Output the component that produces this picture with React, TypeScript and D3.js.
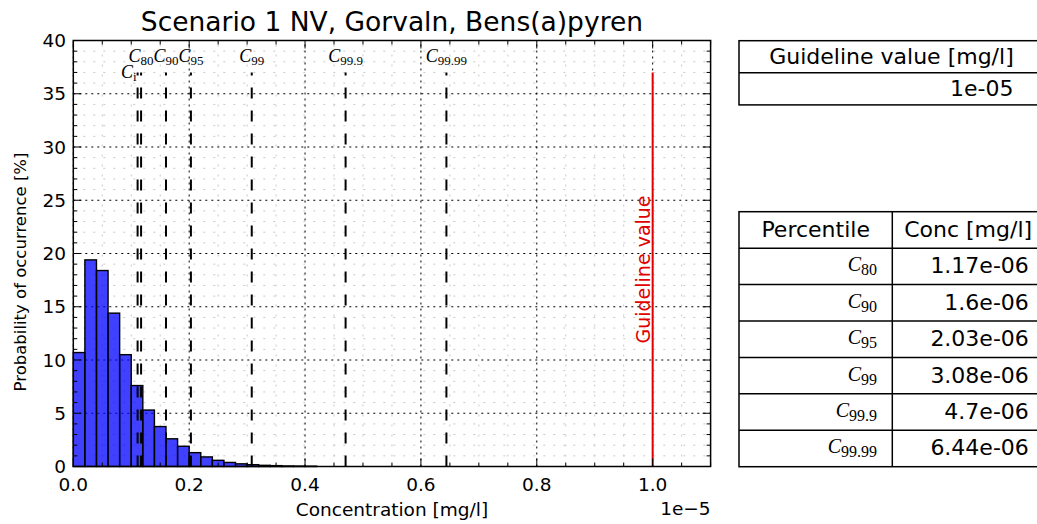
import React from "react";
import * as d3 from "d3";

// ---------- data ----------
// histogram bin edges (mg/l) and probability of occurrence (%)
const binEdges = [
  0, 2e-7, 4e-7, 6e-7, 8e-7, 1.0e-6, 1.2e-6, 1.4e-6, 1.6e-6, 1.8e-6, 2.0e-6,
  2.2e-6, 2.4e-6, 2.6e-6, 2.8e-6, 3.0e-6, 3.2e-6, 3.4e-6, 3.6e-6, 3.8e-6, 4.0e-6, 4.2e-6,
];
const binHeights = [
  10.7, 19.4, 18.4, 14.4, 10.5, 7.6, 5.3, 3.75, 2.6, 1.9, 1.3,
  0.9, 0.58, 0.38, 0.25, 0.17, 0.11, 0.08, 0.05, 0.04, 0.03,
];

// percentile markers
const percentileNames = ["80", "90", "95", "99", "99.9", "99.99"];
const percentileValues = [1.17e-6, 1.6e-6, 2.03e-6, 3.08e-6, 4.7e-6, 6.44e-6];
const percentileText = ["1.17e-06", "1.6e-06", "2.03e-06", "3.08e-06", "4.7e-06", "6.44e-06"];
const ciName = "i";
const ciValue = 1.11e-6;
const guidelineValue = 1e-5;
const guidelineText = "1e-05";

// axes
const xTickValues = [0, 2e-6, 4e-6, 6e-6, 8e-6, 1e-5];
const xTickLabels = ["0.0", "0.2", "0.4", "0.6", "0.8", "1.0"];
const yTickValues = [0, 5, 10, 15, 20, 25, 30, 35, 40];
const yTickLabels = ["0", "5", "10", "15", "20", "25", "30", "35", "40"];

const title = "Scenario 1 NV, Gorvaln, Bens(a)pyren";
const xLabel = "Concentration [mg/l]";
const yLabel = "Probability of occurrence [%]";

// ---------- layout ----------
const W = 1037;
const H = 524;
const SANS = "'DejaVu Sans', sans-serif";
const SERIF = "'Liberation Serif', 'DejaVu Serif', serif";

function MathC({ x, y, sub, size, anchor, ratio = 0.72 }: { x: number; y: number; sub: string; size: number; anchor: string; ratio?: number }) {
  return (
    <text x={x} y={y} fontFamily={SERIF} fontSize={size} textAnchor={anchor} fill="#000">
      <tspan fontStyle="italic">C</tspan>
      <tspan fontSize={size * ratio} dy={size * 0.2}>{sub}</tspan>
    </text>
  );
}

export default function App() {
  const x = d3.scaleLinear().domain([0, 1.1e-5]).range([73.3, 710.6]);
  const y = d3.scaleLinear().domain([0, 40]).range([466.5, 40.5]);
  const [x0, x1] = x.range();
  const [y0, y1] = y.range();

  const xMinor = d3.range(0, 1.1e-5 + 1e-12, 5e-7);
  const yMinor = d3.range(0, 41, 1);
  const isMajorX = (v: number) => xTickValues.some((t) => Math.abs(t - v) < 1e-10);
  const isMajorY = (v: number) => v % 5 === 0;

  const lineTop = 37;

  // tables
  const tLeft = 739;
  const tRight = 1044;
  const tMid = 892.3;
  const t1Top = 40.7;
  const t1Row = 32.1;
  const t2Top = 211.7;
  const t2Row = 36.43;
  const tFont = 22;

  return (
    <svg
      width={W}
      height={H}
      style={{ position: "fixed", left: 0, top: 0, background: "#fff" }}
      fontFamily={SANS}
    >
      <rect x={0} y={0} width={W} height={H} fill="#fff" />

      {/* minor grid */}
      {xMinor.filter((v) => !isMajorX(v)).map((v, i) => (
        <line key={"mgx" + i} x1={x(v)} x2={x(v)} y1={y0} y2={y1} stroke="#c8c8c8" strokeWidth={1} strokeDasharray="2,8" />
      ))}
      {yMinor.filter((v) => !isMajorY(v)).map((v, i) => (
        <line key={"mgy" + i} x1={x0} x2={x1} y1={y(v)} y2={y(v)} stroke="#c8c8c8" strokeWidth={1} strokeDasharray="2,8" />
      ))}
      {/* major grid */}
      {xTickValues.map((v, i) => (
        <line key={"gx" + i} x1={x(v)} x2={x(v)} y1={y0} y2={y1} stroke="#000" strokeWidth={1} strokeDasharray="2,4" />
      ))}
      {yTickValues.map((v, i) => (
        <line key={"gy" + i} x1={x0} x2={x1} y1={y(v)} y2={y(v)} stroke="#000" strokeWidth={1} strokeDasharray="2,4" />
      ))}

      {/* histogram */}
      {binHeights.map((h, i) => (
        <rect
          key={"b" + i}
          x={x(binEdges[i])}
          y={y(h)}
          width={x(binEdges[i + 1]) - x(binEdges[i])}
          height={y(0) - y(h)}
          fill="#0000ff"
          fillOpacity={0.75}
          stroke="#000"
          strokeWidth={1.4}
        />
      ))}

      {/* percentile lines */}
      <line x1={x(ciValue)} x2={x(ciValue)} y1={y(0)} y2={y(lineTop)} stroke="#000" strokeWidth={2} strokeDasharray="11,12" />
      {percentileValues.map((v, i) => (
        <line key={"p" + i} x1={x(v)} x2={x(v)} y1={y(0)} y2={y(lineTop)} stroke="#000" strokeWidth={2} strokeDasharray="11,12" />
      ))}
      {percentileValues.map((v, i) => (
        <MathC key={"pl" + i} x={x(v)} y={y(38)} sub={percentileNames[i]} size={18} anchor="middle" />
      ))}
      <MathC x={x(ciValue) - 1} y={y(36.5)} sub={ciName} size={18} anchor="end" />

      {/* guideline */}
      <line x1={x(guidelineValue)} x2={x(guidelineValue)} y1={y(0)} y2={y(lineTop)} stroke="#e00000" strokeWidth={2} />
      <text
        transform={`translate(${x(guidelineValue) - 3},${y(lineTop / 2)}) rotate(-90)`}
        textAnchor="middle"
        fontSize={19}
        fill="#e00000"
      >
        Guideline value
      </text>

      {/* ticks */}
      {xMinor.map((v, i) => {
        const len = isMajorX(v) ? 8 : 4;
        return (
          <g key={"tx" + i}>
            <line x1={x(v)} x2={x(v)} y1={y0} y2={y0 - len} stroke="#000" strokeWidth={1} />
            <line x1={x(v)} x2={x(v)} y1={y1} y2={y1 + len} stroke="#000" strokeWidth={1} />
          </g>
        );
      })}
      {yMinor.map((v, i) => {
        const len = isMajorY(v) ? 8 : 4;
        return (
          <g key={"ty" + i}>
            <line x1={x0} x2={x0 + len} y1={y(v)} y2={y(v)} stroke="#000" strokeWidth={1} />
            <line x1={x1} x2={x1 - len} y1={y(v)} y2={y(v)} stroke="#000" strokeWidth={1} />
          </g>
        );
      })}

      {/* spines */}
      <rect x={x0} y={y1} width={x1 - x0} height={y0 - y1} fill="none" stroke="#000" strokeWidth={1.5} />

      {/* tick labels */}
      {xTickValues.map((v, i) => (
        <text key={"xl" + i} x={x(v)} y={491} textAnchor="middle" fontSize={18.5} fill="#000">
          {xTickLabels[i]}
        </text>
      ))}
      {yTickValues.map((v, i) => (
        <text key={"yl" + i} x={66} y={y(v) + 6.5} textAnchor="end" fontSize={18.5} fill="#000">
          {yTickLabels[i]}
        </text>
      ))}
      <text x={x1} y={515} textAnchor="end" fontSize={18.5} fill="#000">
        1e−5
      </text>

      {/* labels */}
      <text x={(x0 + x1) / 2} y={31} textAnchor="middle" fontSize={26.5} fill="#000">
        {title}
      </text>
      <text x={(x0 + x1) / 2} y={516} textAnchor="middle" fontSize={18.5} fill="#000">
        {xLabel}
      </text>
      <text transform={`translate(26,272) rotate(-90)`} textAnchor="middle" fontSize={16.5} fill="#000">
        {yLabel}
      </text>

      {/* guideline table */}
      <rect x={tLeft} y={t1Top} width={tRight - tLeft} height={t1Row * 2} fill="#fff" stroke="#000" strokeWidth={1.5} />
      <line x1={tLeft} x2={tRight} y1={t1Top + t1Row} y2={t1Top + t1Row} stroke="#000" strokeWidth={1.5} />
      <text x={(tLeft + tRight) / 2} y={t1Top + t1Row / 2 + 7} textAnchor="middle" fontSize={tFont} fill="#000">
        Guideline value [mg/l]
      </text>
      <text x={tRight - 0.1 * (tRight - tLeft)} y={t1Top + t1Row * 1.5 + 7} textAnchor="end" fontSize={tFont} fill="#000">
        {guidelineText}
      </text>

      {/* percentile table */}
      <rect x={tLeft} y={t2Top} width={tRight - tLeft} height={t2Row * 7} fill="#fff" stroke="#000" strokeWidth={1.5} />
      <line x1={tMid} x2={tMid} y1={t2Top} y2={t2Top + t2Row * 7} stroke="#000" strokeWidth={1.5} />
      {percentileNames.map((_, i) => (
        <line key={"rl" + i} x1={tLeft} x2={tRight} y1={t2Top + t2Row * (i + 1)} y2={t2Top + t2Row * (i + 1)} stroke="#000" strokeWidth={1.5} />
      ))}
      <text x={(tLeft + tMid) / 2} y={t2Top + t2Row / 2 + 7} textAnchor="middle" fontSize={tFont} fill="#000">
        Percentile
      </text>
      <text x={(tMid + tRight) / 2} y={t2Top + t2Row / 2 + 7} textAnchor="middle" fontSize={tFont} fill="#000">
        Conc [mg/l]
      </text>
      {percentileNames.map((n, i) => (
        <MathC key={"tc" + i} x={tMid - 0.1 * (tMid - tLeft)} y={t2Top + t2Row * (i + 1.5) + 5} sub={n} size={20} anchor="end" ratio={0.8} />
      ))}
      {percentileText.map((t, i) => (
        <text key={"tv" + i} x={tRight - 0.1 * (tRight - tMid)} y={t2Top + t2Row * (i + 1.5) + 7} textAnchor="end" fontSize={tFont} fill="#000">
          {t}
        </text>
      ))}
    </svg>
  );
}
